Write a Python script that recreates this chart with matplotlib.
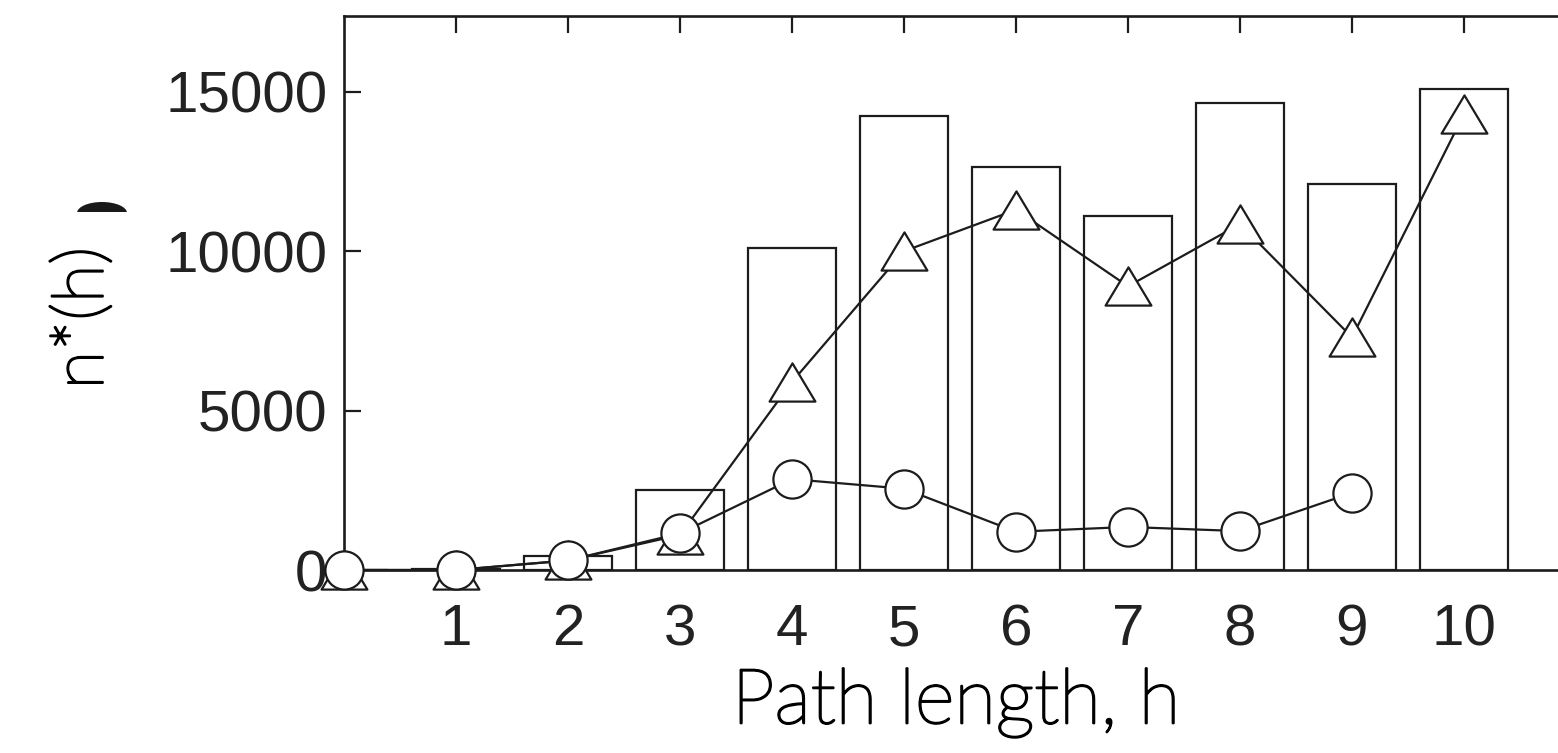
import matplotlib
matplotlib.use("Agg")
import matplotlib.pyplot as plt
from matplotlib.path import Path
from matplotlib.patches import Ellipse, Rectangle
import matplotlib.patheffects as pe
import numpy as np

# ---- data ----
path_length = [0, 1, 2, 3, 4, 5, 6, 7, 8, 9, 10]
bar_values = [0, 30, 450, 2500, 10100, 14250, 12650, 11100, 14650, 12100, 15100]
triangle_values = [0, 0, 300, 1100, 5900, 10000, 11300, 8900, 10850, 7300, 14300]
circle_h = [0, 1, 2, 3, 4, 5, 6, 7, 8, 9]
circle_values = [0, 0, 300, 1150, 2850, 2550, 1200, 1350, 1220, 2420]
x_ticks = [1, 2, 3, 4, 5, 6, 7, 8, 9, 10]
y_ticks = [0, 5000, 10000, 15000]
x_label = "Path length, h"
y_label = "n*(h)"

W, H, DPI = 1558, 753, 100
fig = plt.figure(figsize=(W / DPI, H / DPI), dpi=DPI)
fig.patch.set_facecolor("white")

# axes placement in pixels (axes continues past the right edge as in the cropped original)
px_per_unit = 112.0
x0_px, y0_px, ytop_px = 344, 570, 16
xmax = 11.5
ymax = (y0_px - ytop_px) / 31.88 * 1000
ax = fig.add_axes([x0_px / W, (H - y0_px) / H,
                   xmax * px_per_unit / W, (y0_px - ytop_px) / H])

ink = "#1c1c1c"

ax.bar(path_length, bar_values, width=0.79, facecolor="white",
       edgecolor=ink, linewidth=1.6, zorder=1)

tri = Path([(0, 1), (-1.2, -1), (1.2, -1), (0, 1)],
           [Path.MOVETO, Path.LINETO, Path.LINETO, Path.CLOSEPOLY])
ax.plot(path_length, triangle_values, color=ink, linewidth=1.6,
        marker=tri, markersize=33, markerfacecolor="white",
        markeredgecolor=ink, markeredgewidth=1.6, zorder=3, clip_on=False)
ax.plot(circle_h, circle_values, color=ink, linewidth=1.6,
        marker="o", markersize=27.5, markerfacecolor="white",
        markeredgecolor=ink, markeredgewidth=1.6, zorder=4, clip_on=False)

ax.set_xlim(0, xmax)
ax.set_ylim(0, ymax)
ax.set_xticks(x_ticks)
ax.set_yticks(y_ticks)

tick_font = dict(family=["Liberation Sans", "DejaVu Sans"], size=42)
ax.set_xticklabels([str(v) for v in x_ticks], **tick_font)
ax.set_yticklabels([str(v) for v in y_ticks], **tick_font)
for lab in ax.get_xticklabels() + ax.get_yticklabels():
    lab.set_color("#222222")

ax.tick_params(axis="x", direction="in", top=True, bottom=True,
               length=12, width=1.6, pad=24, color=ink)
ax.tick_params(axis="y", direction="in", left=True, right=False,
               length=12, width=1.6, pad=12, color=ink)
for t in ax.xaxis.get_major_ticks():
    t.tick1line.set_visible(False)

for s in ax.spines.values():
    s.set_linewidth(1.9)
    s.set_color(ink)

# axis labels (light face thickened slightly to mimic the original humanist sans)
thicken = [pe.withStroke(linewidth=1.6, foreground="black")]
label_font = dict(family=["Lato", "DejaVu Sans"], weight="light", color="black")
fig.text(956 / W, 1 - 703 / H, x_label, ha="center", va="center",
         fontsize=55, path_effects=thicken, **label_font)
fig.text(84 / W, 1 - 318 / H, y_label, ha="center", va="center",
         rotation=90, fontsize=51, path_effects=thicken, **label_font)

# small dark cropped fragment above the y label in the original image
blob = Ellipse((102 / W, 1 - 213 / H), 50 / W, 22 / H, transform=fig.transFigure,
               facecolor="#1a1a1a", edgecolor="none")
fig.patches.append(blob)
clipbox = Rectangle((70 / W, 1 - 212 / H), 70 / W, 20 / H, transform=fig.transFigure)
blob.set_clip_path(clipbox)

fig.savefig("out.png", dpi=DPI, facecolor="white")
